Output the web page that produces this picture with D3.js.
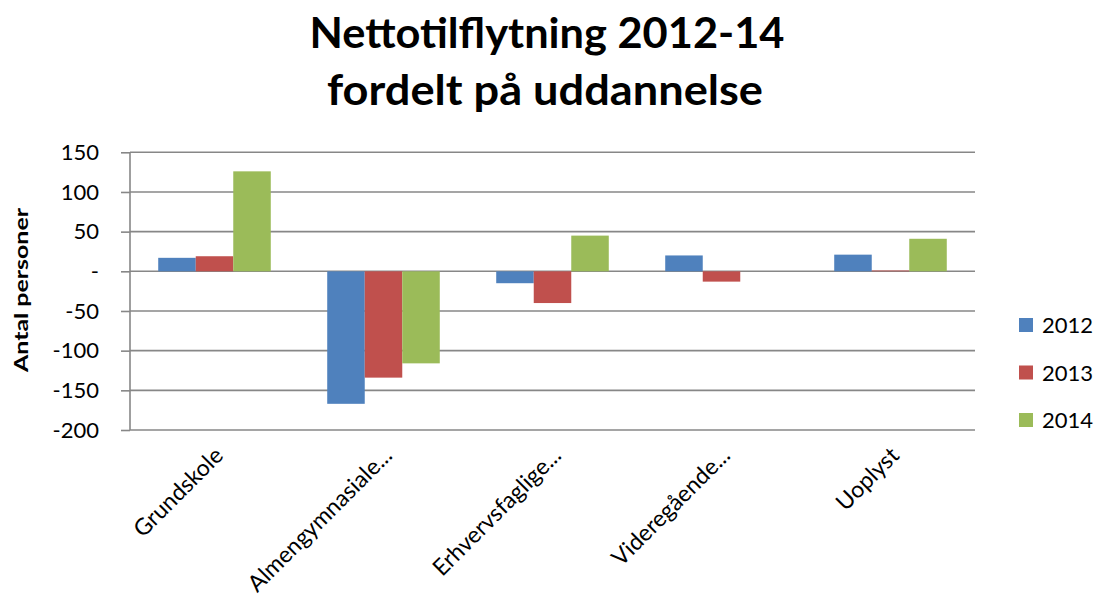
<!DOCTYPE html>
<head>
<meta charset="utf-8">
<style>
body { margin: 0; background: #fff; }
text { font-family: Lato, "Open Sans", sans-serif; fill: #000; }
.grid line { stroke: #878787; stroke-width: 1.6; }
.y-axis path, .y-axis line { stroke: #878787; stroke-width: 1.6; }
.y-axis text { font-size: 22px; }
.x-label { font-size: 23px; }
.title { font-size: 42px; font-weight: bold; }
.legend text { font-size: 22px; }
</style>
</head>
<body>
<div class="bar-viz"></div>
<script src="https://cdnjs.cloudflare.com/ajax/libs/d3/7.8.5/d3.min.js"></script>
<script>
const categories = ["Grundskole", "Almengymnasiale...", "Erhvervsfaglige...", "Videregående...", "Uoplyst"];
const years = ["2012", "2013", "2014"];
const values2012 = [17, -167, -15, 20, 21];
const values2013 = [19, -134, -40, -13, 1];
const values2014 = [126, -116, 45, 0, 41];
const yTicks = [-200, -150, -100, -50, 0, 50, 100, 150];
const colors = ["#4F81BD", "#C0504D", "#9BBB59"];

const series = [values2012, values2013, values2014];
const rows = categories.map(function(c, i) {
    return { cat: c, vals: years.map(function(y, j) { return { year: y, v: series[j][i] }; }) };
});

const width = 1101, height = 598;
const plot = { left: 130, right: 975, top: 152.3, bottom: 430 };

const svg = d3.select(".bar-viz").append("svg")
    .attr("width", width)
    .attr("height", height);

// scales
const x = d3.scaleBand()
    .domain(categories)
    .range([plot.left, plot.right])
    .paddingInner(0.334)
    .paddingOuter(0.167);
const xInner = d3.scaleBand()
    .domain(years)
    .range([0, x.bandwidth()]);
const y = d3.scaleLinear()
    .domain([-200, 150])
    .range([plot.bottom, plot.top]);
const color = d3.scaleOrdinal().domain(years).range(colors);

// gridlines
svg.append("g").attr("class", "grid")
    .selectAll("line")
    .data(yTicks)
    .enter().append("line")
        .attr("x1", plot.left)
        .attr("x2", plot.right)
        .attr("y1", function(d) { return y(d); })
        .attr("y2", function(d) { return y(d); });

// y axis
const yAxis = d3.axisLeft(y)
    .tickValues(yTicks)
    .tickSize(9)
    .tickPadding(22)
    .tickFormat(function(d) { return d === 0 ? "-" : d; });
svg.append("g")
    .attr("class", "y-axis")
    .attr("transform", "translate(" + plot.left + ",0)")
    .call(yAxis)
    .call(function(g) { g.select(".domain").attr("d", "M0," + plot.top + "V" + plot.bottom); });

// bars
const group = svg.selectAll(".group")
    .data(rows)
    .enter().append("g")
        .attr("class", "group")
        .attr("transform", function(d) { return "translate(" + x(d.cat) + ",0)"; });
group.selectAll("rect")
    .data(function(d) { return d.vals; })
    .enter().append("rect")
        .attr("x", function(d) { return xInner(d.year); })
        .attr("y", function(d) { return y(Math.max(0, d.v)); })
        .attr("width", xInner.bandwidth())
        .attr("height", function(d) { return Math.abs(y(d.v) - y(0)); })
        .attr("fill", function(d) { return color(d.year); });

// category labels, rotated
svg.selectAll(".x-label")
    .data(categories)
    .enter().append("text")
        .attr("class", "x-label")
        .attr("text-anchor", "end")
        .attr("transform", function(d) {
            return "translate(" + (x(d) + x.bandwidth() / 2 + 10) + ",457) rotate(-45)";
        })
        .text(function(d) { return d; });

// y axis title
svg.append("text")
    .attr("transform", "translate(28,290) rotate(-90)")
    .attr("text-anchor", "middle")
    .style("font-size", "19px")
    .style("font-weight", "bold")
    .attr("textLength", 164)
    .attr("lengthAdjust", "spacingAndGlyphs")
    .text("Antal personer");

// title
svg.append("text").attr("class", "title")
    .attr("x", 547).attr("y", 48)
    .attr("text-anchor", "middle")
    .attr("textLength", 475)
    .attr("lengthAdjust", "spacingAndGlyphs")
    .text("Nettotilflytning 2012-14");
svg.append("text").attr("class", "title")
    .attr("x", 545).attr("y", 105)
    .attr("text-anchor", "middle")
    .attr("textLength", 436)
    .attr("lengthAdjust", "spacingAndGlyphs")
    .text("fordelt på uddannelse");

// legend
const legend = svg.append("g").attr("class", "legend")
    .selectAll("g")
    .data(years)
    .enter().append("g")
        .attr("transform", function(d, i) { return "translate(1019," + (318 + i * 47.5) + ")"; });
legend.append("rect")
    .attr("width", 14).attr("height", 14)
    .attr("fill", function(d) { return color(d); });
legend.append("text")
    .attr("x", 23).attr("y", 15)
    .text(function(d) { return d; });
</script>
</body>
